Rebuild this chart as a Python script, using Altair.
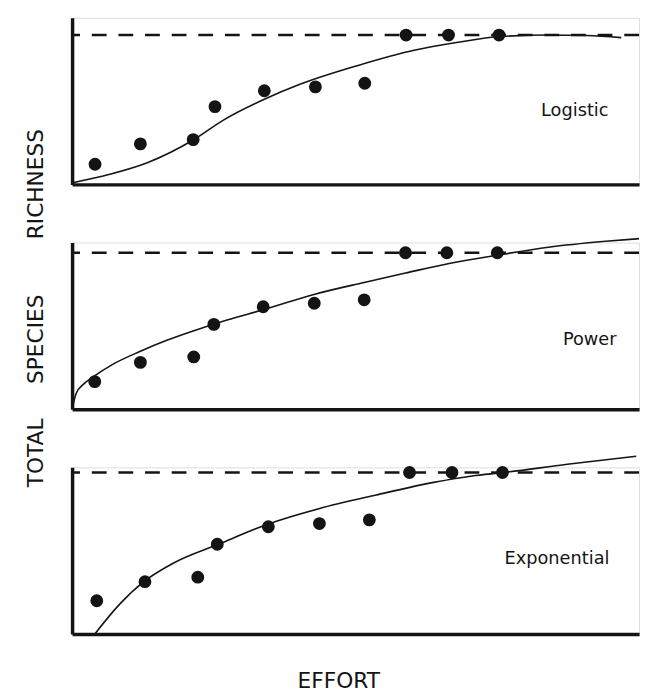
import altair as alt
import pandas as pd

X_MAX = 98.8
ASYMPTOTE = 100

# ---- Logistic panel ----
log_pts_x = [4.0, 11.9, 21.1, 24.9, 33.5, 42.4, 51.0, 58.2, 65.6, 74.4]
log_pts_y = [13.5, 27.1, 30.0, 52.1, 62.7, 65.3, 67.7, 100, 100, 100]
log_fit_x = [0.3, 6.4, 13.1, 21.1, 26.3, 33.5, 39.7, 49.7, 59.6, 67.0, 74.6, 83.0, 89.7, 95.7]
log_fit_y = [1.3, 6.6, 14.5, 29.7, 42.9, 57.0, 67.0, 79.5, 89.8, 95.0, 99.0, 100.0, 99.7, 98.3]

# ---- Power panel ----
pow_pts_x = [3.95, 11.9, 21.2, 24.7, 33.3, 42.2, 50.9, 58.1, 65.3, 74.1]
pow_pts_y = [17.6, 29.9, 33.4, 54.2, 65.5, 67.7, 69.9, 100, 100, 100]
pow_fit_x = [0.17, 0.7, 2.0, 3.6, 7.0, 11.9, 16.5, 21.1, 27.0, 33.3, 42.3, 50.9, 58.1, 65.5, 74.2, 83.0, 93.0, 98.8]
pow_fit_y = [2.5, 10.0, 16.0, 20.5, 28.5, 37.0, 44.0, 50.0, 57.0, 63.5, 73.5, 81.0, 87.0, 93.0, 98.5, 103.5, 107.3, 109.0]

# ---- Exponential panel ----
exp_pts_x = [4.3, 12.7, 21.9, 25.3, 34.2, 43.1, 51.8, 58.8, 66.2, 75.0]
exp_pts_y = [20.6, 32.4, 35.2, 55.6, 66.4, 68.4, 70.7, 100, 100, 100]
exp_fit_x = [4.0, 8.3, 12.5, 17.7, 25.5, 34.1, 43.0, 53.0, 63.0, 69.7, 75.2, 86.3, 98.3]
exp_fit_y = [0.2, 18.5, 32.4, 44.0, 55.6, 68.0, 77.6, 86.1, 93.9, 97.9, 100.0, 105.1, 110.1]

labels = ["Logistic", "Power", "Exponential"]
label_x = [87.6, 90.2, 84.5]
label_y = [46.0, 41.1, 43.6]
y_tops = [111.6, 106.5, 103.2]

INK = "#141414"
FONT = "DejaVu Sans"
PANEL_W = 575
PANEL_H = 169


def panel(px, py, fx, fy, label, lx, ly, ytop, bottom=False):
    xs = alt.Scale(domain=[0, X_MAX], nice=False, zero=False)
    ys = alt.Scale(domain=[0, ytop], nice=False, zero=False)
    if bottom:
        xax = alt.Axis(title="EFFORT", labels=False, ticks=False, grid=False,
                       domainWidth=3.5, domainColor=INK, titleFont=FONT,
                       titleFontSize=22, titleFontWeight="normal", titleColor=INK,
                       titlePadding=37, titleX=270, titleAnchor="start", titleAlign="center")
    else:
        xax = alt.Axis(title=None, labels=False, ticks=False, grid=False,
                       domainWidth=3.5, domainColor=INK)
    yax = alt.Axis(title=None, labels=False, ticks=False, grid=False,
                   domainWidth=3.5, domainColor=INK)

    fit = pd.DataFrame({"effort": fx, "richness": fy})
    pts = pd.DataFrame({"effort": px, "richness": py})
    asym = pd.DataFrame({"richness": [ASYMPTOTE]})
    lab = pd.DataFrame({"effort": [lx], "richness": [ly], "label": [label]})

    line = alt.Chart(fit).mark_line(color=INK, strokeWidth=1.6, interpolate="monotone").encode(
        x=alt.X("effort:Q", scale=xs, axis=xax),
        y=alt.Y("richness:Q", scale=ys, axis=yax),
    )
    rule = alt.Chart(asym).mark_rule(color=INK, strokeWidth=2.6, strokeDash=[15, 12]).encode(
        y=alt.Y("richness:Q", scale=ys, axis=yax),
    )
    dots = alt.Chart(pts).mark_point(filled=True, color=INK, size=170, opacity=1).encode(
        x=alt.X("effort:Q", scale=xs, axis=xax),
        y=alt.Y("richness:Q", scale=ys, axis=yax),
    )
    text = alt.Chart(lab).mark_text(font=FONT, fontSize=18, color=INK, align="center",
                                     baseline="alphabetic").encode(
        x=alt.X("effort:Q", scale=xs, axis=xax),
        y=alt.Y("richness:Q", scale=ys, axis=yax),
        text="label:N",
    )
    return alt.layer(rule, line, dots, text).properties(width=PANEL_W, height=PANEL_H)


p1 = panel(log_pts_x, log_pts_y, log_fit_x, log_fit_y, labels[0], label_x[0], label_y[0], y_tops[0])
p2 = panel(pow_pts_x, pow_pts_y, pow_fit_x, pow_fit_y, labels[1], label_x[1], label_y[1], y_tops[1])
p3 = panel(exp_pts_x, exp_pts_y, exp_fit_x, exp_fit_y, labels[2], label_x[2], label_y[2], y_tops[2], bottom=True)

NB = "\u00a0"
ytitle = "TOTAL" + NB * 5 + "SPECIES" + NB * 8 + "RICHNESS"

chart = alt.vconcat(p1, p2, p3, spacing=59, bounds="flush").properties(
    title=alt.TitleParams(text=ytitle, orient="left", anchor="middle", font=FONT,
                          fontSize=22, fontWeight="normal", color=INK, offset=22, dx=47),
    padding={"left": 17, "top": 4, "right": 0, "bottom": 0},
).configure_view(stroke=None).configure(background="white")

chart.save("out.html", embed_options={"renderer": "svg", "actions": False})
